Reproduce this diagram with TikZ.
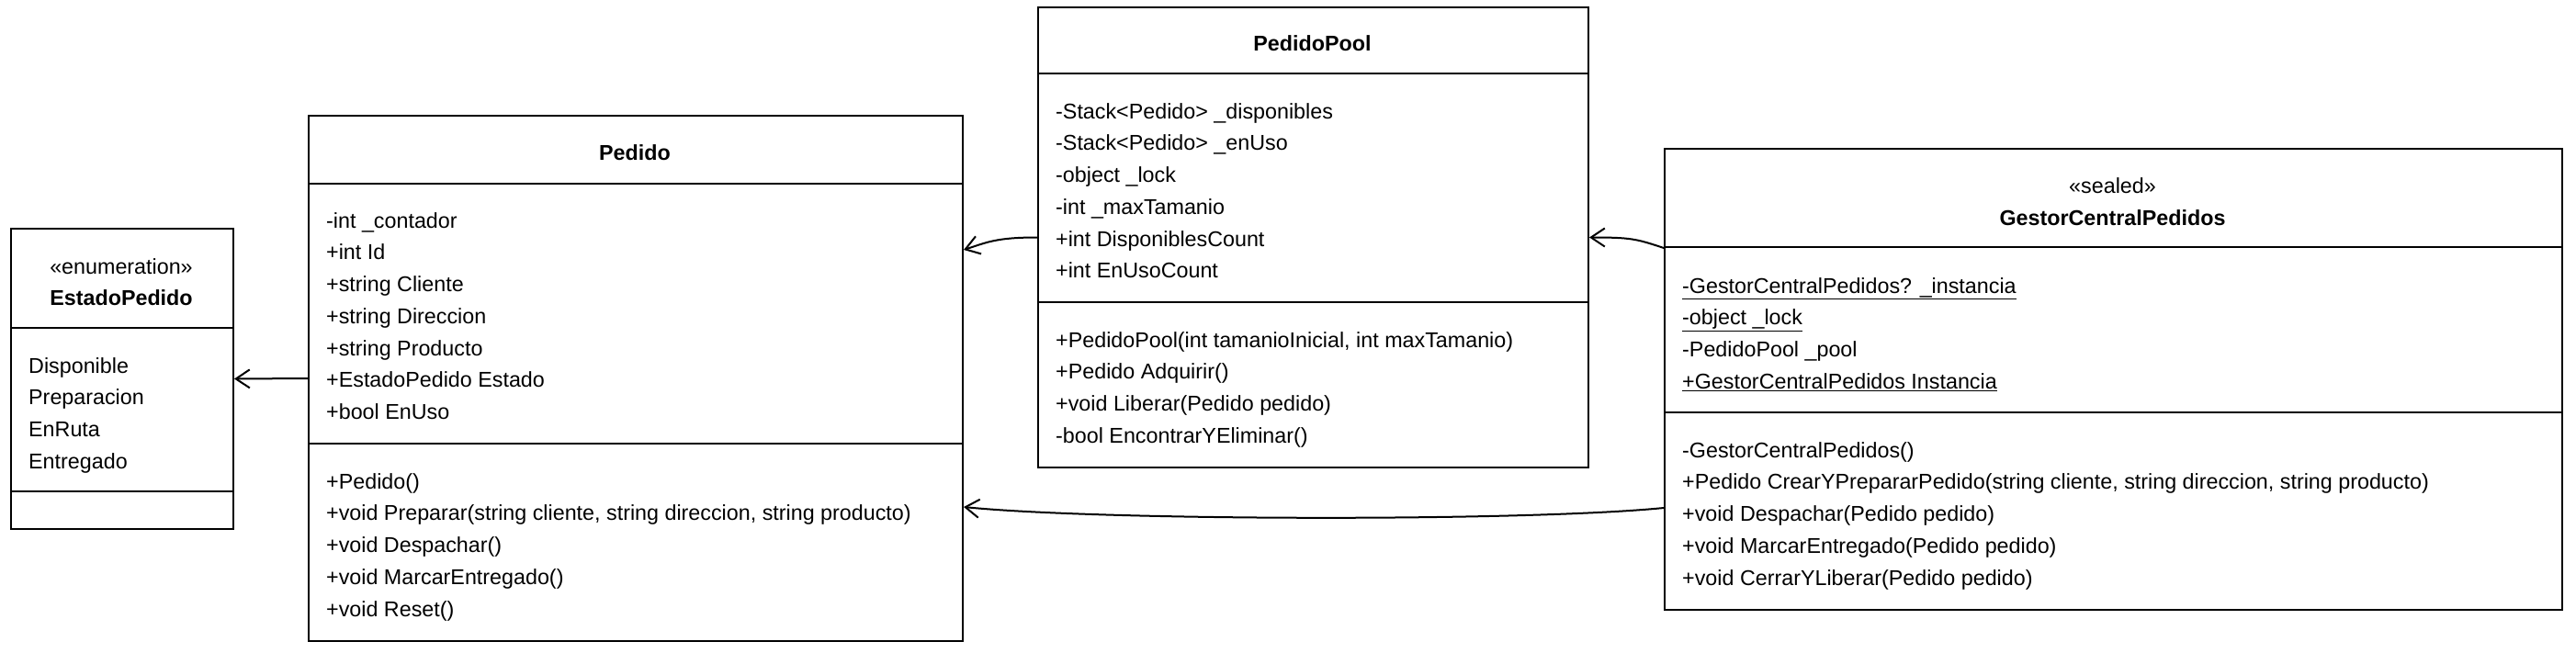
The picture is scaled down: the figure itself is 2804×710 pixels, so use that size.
\documentclass[tikz,border=0pt]{standalone}
\usepackage{fontspec}
\setmainfont{Liberation Sans}
\usetikzlibrary{arrows.meta,calc}

\begin{document}
\begin{tikzpicture}[x=1pt,y=-1pt,
    >={Straight Barb[length=15pt,width=20pt,line width=2pt]},
    classbox/.style={draw, line width=2pt, inner sep=0pt, anchor=north west},
    member/.style={anchor=west, inner sep=0pt, text height=16.5pt, text depth=0pt,
                   font=\fontsize{23.3}{28}\selectfont},
    classname/.style={member, anchor=center, font=\fontsize{23.3}{28}\selectfont\bfseries},
    stereo/.style={member, anchor=center},
    assoc/.style={->, line width=2pt}]
  \useasboundingbox (0,0) rectangle (2804,710);
  % Enum EstadoPedido
  \node[classbox, minimum width=242pt, minimum height=327pt] (enum) at (11,248) {};
  \node[stereo] (enum-st) at (132,290) {«enumeration»};
  \node[classname] (enum-name) at (132,324) {EstadoPedido};
  \draw[line width=2pt] (11,357) -- (253,357);
  \draw[line width=2pt] (11,535) -- (253,535);
  \foreach \val [count=\k from 0] in {Disponible,Preparacion,EnRuta,Entregado}
    \node[member] (enum-v\k) at (31,398+34.7*\k) {\val};
  % Pedido
  \node[classbox, minimum width=712pt, minimum height=572pt] (pedido) at (335,125) {};
  \node[classname] (pedido-name) at (691,166) {Pedido};
  \draw[line width=2pt] (335,200) -- (1047,200);
  \draw[line width=2pt] (335,483) -- (1047,483);
  \foreach \val [count=\k from 0] in {{-int \_contador},{+int Id},{+string Cliente},
      {+string Direccion},{+string Producto},{+EstadoPedido Estado},{+bool EnUso}}
    \node[member] (pedido-a\k) at (355,240+34.7*\k) {\val};
  \foreach \val [count=\k from 0] in {{+Pedido()},
      {+void Preparar(string cliente, string direccion, string producto)},
      {+void Despachar()},{+void MarcarEntregado()},{+void Reset()}}
    \node[member] (pedido-m\k) at (355,524+34.7*\k) {\val};
  % PedidoPool
  \node[classbox, minimum width=599pt, minimum height=501pt] (pool) at (1129,7) {};
  \node[classname] (pool-name) at (1428.5,47) {PedidoPool};
  \draw[line width=2pt] (1129,80) -- (1728,80);
  \draw[line width=2pt] (1129,329) -- (1728,329);
  \foreach \val [count=\k from 0] in {{-Stack<Pedido> \_disponibles},{-Stack<Pedido> \_enUso},
      {-object \_lock},{-int \_maxTamanio},{+int DisponiblesCount},{+int EnUsoCount}}
    \node[member] (pool-a\k) at (1149,121+34.7*\k) {\val};
  \foreach \val [count=\k from 0] in {{+PedidoPool(int tamanioInicial, int maxTamanio)},
      {+Pedido Adquirir()},{+void Liberar(Pedido pedido)},{-bool EncontrarYEliminar()}}
    \node[member] (pool-m\k) at (1149,370+34.7*\k) {\val};
  % GestorCentralPedidos
  \node[classbox, minimum width=977pt, minimum height=502pt] (gestor) at (1811,161) {};
  \node[stereo] (gestor-st) at (2299.5,202) {«sealed»};
  \node[classname] (gestor-name) at (2299.5,237) {GestorCentralPedidos};
  \draw[line width=2pt] (1811,269) -- (2788,269);
  \draw[line width=2pt] (1811,449) -- (2788,449);
  \foreach \val [count=\k from 0] in {{\underline{-GestorCentralPedidos? \_instancia}},
      {\underline{-object \_lock}},{-PedidoPool \_pool},
      {\underline{+GestorCentralPedidos Instancia}}}
    \node[member] (gestor-a\k) at (1831,311+34.7*\k) {\val};
  \foreach \val [count=\k from 0] in {{-GestorCentralPedidos()},
      {+Pedido CrearYPrepararPedido(string cliente, string direccion, string producto)},
      {+void Despachar(Pedido pedido)},{+void MarcarEntregado(Pedido pedido)},
      {+void CerrarYLiberar(Pedido pedido)}}
    \node[member] (gestor-m\k) at (1831,490+34.7*\k) {\val};
  % associations
  \draw[assoc] (pedido.west) -- (enum.east);
  \draw[assoc] (pool.west) .. controls +(-45,0) and +(25,-8) .. ($(pedido.north east)+(0,147)$);
  \draw[assoc] ($(gestor.north west)+(0,109)$) .. controls +(-30,-10) and +(45,0) .. (pool.east);
  \draw[assoc] ($(gestor.north west)+(0,392)$) .. controls +(-150,15) and +(150,15)
    .. ($(pedido.north east)+(0,427)$);
\end{tikzpicture}
\end{document}
